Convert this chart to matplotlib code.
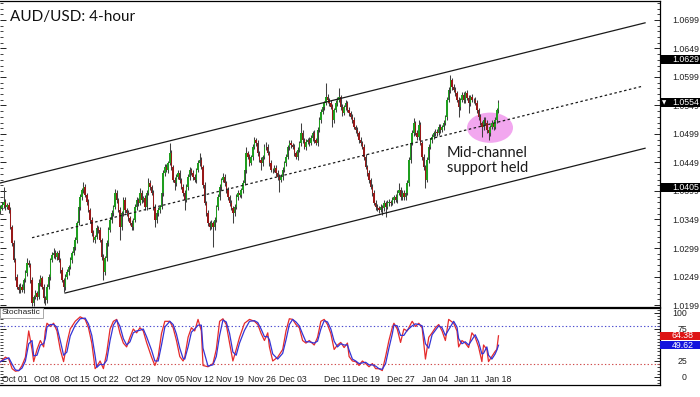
import numpy as np
import matplotlib
matplotlib.use('Agg')
import matplotlib.pyplot as plt
import matplotlib.transforms as mtransforms
from matplotlib.patches import Ellipse, Rectangle
from matplotlib.ticker import FixedLocator, MultipleLocator

plt.rcParams['font.family'] = ['Liberation Sans', 'DejaVu Sans']

# AUD/USD 4-hour closes, one value per candle (Oct 01 -> Jan 18)
first_open = 1.0364
closes = [
    1.0369, 1.0374, 1.0380, 1.0371, 1.0374, 1.0366, 1.0336, 1.0308, 1.0278, 1.0248,
    1.0231, 1.0225, 1.0231, 1.0225, 1.0243, 1.0255, 1.0273, 1.0269, 1.0243, 1.0203,
    1.0213, 1.0220, 1.0213, 1.0238, 1.0246, 1.0231, 1.0211, 1.0208, 1.0231, 1.0248,
    1.0278, 1.0287, 1.0290, 1.0283, 1.0290, 1.0278, 1.0260, 1.0243, 1.0231, 1.0248,
    1.0257, 1.0266, 1.0278, 1.0290, 1.0301, 1.0313, 1.0343, 1.0371, 1.0388, 1.0401,
    1.0406, 1.0392, 1.0380, 1.0366, 1.0348, 1.0325, 1.0313, 1.0318, 1.0334, 1.0331,
    1.0313, 1.0283, 1.0257, 1.0281, 1.0308, 1.0331, 1.0348, 1.0360, 1.0371, 1.0396,
    1.0383, 1.0366, 1.0336, 1.0360, 1.0383, 1.0366, 1.0360, 1.0352, 1.0343, 1.0336,
    1.0348, 1.0371, 1.0383, 1.0378, 1.0396, 1.0383, 1.0387, 1.0371, 1.0396, 1.0413,
    1.0406, 1.0396, 1.0371, 1.0348, 1.0360, 1.0366, 1.0371, 1.0396, 1.0431, 1.0441,
    1.0436, 1.0448, 1.0466, 1.0441, 1.0418, 1.0413, 1.0424, 1.0431, 1.0418, 1.0406,
    1.0396, 1.0383, 1.0406, 1.0424, 1.0436, 1.0431, 1.0424, 1.0418, 1.0436, 1.0448,
    1.0453, 1.0441, 1.0410, 1.0378, 1.0360, 1.0343, 1.0336, 1.0343, 1.0336, 1.0348,
    1.0371, 1.0388, 1.0406, 1.0418, 1.0424, 1.0413, 1.0401, 1.0388, 1.0378, 1.0369,
    1.0360, 1.0371, 1.0388, 1.0396, 1.0392, 1.0401, 1.0413, 1.0436, 1.0466, 1.0459,
    1.0448, 1.0459, 1.0476, 1.0488, 1.0483, 1.0466, 1.0453, 1.0448, 1.0459, 1.0476,
    1.0476, 1.0466, 1.0448, 1.0436, 1.0436, 1.0439, 1.0431, 1.0424, 1.0418, 1.0424,
    1.0436, 1.0448, 1.0459, 1.0476, 1.0483, 1.0480, 1.0476, 1.0466, 1.0459, 1.0471,
    1.0483, 1.0501, 1.0488, 1.0476, 1.0485, 1.0488, 1.0483, 1.0492, 1.0501, 1.0488,
    1.0483, 1.0506, 1.0524, 1.0538, 1.0546, 1.0553, 1.0564, 1.0559, 1.0553, 1.0546,
    1.0524, 1.0541, 1.0553, 1.0559, 1.0564, 1.0546, 1.0536, 1.0546, 1.0553, 1.0541,
    1.0536, 1.0529, 1.0524, 1.0511, 1.0506, 1.0501, 1.0488, 1.0483, 1.0476, 1.0459,
    1.0441, 1.0431, 1.0418, 1.0406, 1.0396, 1.0378, 1.0371, 1.0369, 1.0366, 1.0371,
    1.0369, 1.0378, 1.0371, 1.0378, 1.0380, 1.0378, 1.0383, 1.0388, 1.0383, 1.0396,
    1.0401, 1.0388, 1.0396, 1.0388, 1.0396, 1.0413, 1.0453, 1.0483, 1.0501, 1.0518,
    1.0501, 1.0494, 1.0515, 1.0483, 1.0459, 1.0441, 1.0418, 1.0453, 1.0476, 1.0488,
    1.0494, 1.0501, 1.0503, 1.0501, 1.0511, 1.0506, 1.0511, 1.0518, 1.0529, 1.0559,
    1.0576, 1.0594, 1.0581, 1.0576, 1.0571, 1.0559, 1.0546, 1.0559, 1.0567, 1.0559,
    1.0571, 1.0562, 1.0553, 1.0564, 1.0559, 1.0559, 1.0553, 1.0541, 1.0529, 1.0518,
    1.0511, 1.0524, 1.0518, 1.0506, 1.0501, 1.0511, 1.0518, 1.0511, 1.0524, 1.0541,
    1.0554,
]
# wick lengths in pips above / below each candle body
wick_up = [
    5, 6, 26, 5, 4, 6, 5, 4, 5, 4,   5, 4, 6, 5, 4, 5, 9, 5, 4, 5,
    4, 5, 4, 6, 5, 4, 5, 4, 5, 5,    4, 5, 9, 5, 4, 5, 4, 5, 4, 5,
    5, 4, 5, 4, 6, 5, 4, 5, 5, 4,    9, 5, 4, 5, 4, 5, 6, 4, 5, 4,
    5, 4, 5, 4, 5, 4, 5, 5, 4, 7,    5, 4, 5, 4, 6, 5, 4, 5, 4, 5,
    4, 5, 5, 4, 9, 5, 4, 5, 4, 9,    5, 4, 5, 5, 4, 5, 4, 5, 4, 6,
    5, 4, 17, 5, 4, 5, 4, 5, 5, 4,   5, 4, 5, 4, 5, 4, 5, 5, 4, 5,
    12, 5, 4, 5, 4, 5, 4, 5, 4, 5,   4, 5, 5, 4, 7, 5, 4, 5, 4, 5,
    4, 5, 5, 4, 5, 4, 5, 5, 10, 4,   5, 4, 5, 6, 4, 5, 4, 5, 4, 5,
    9, 5, 4, 5, 4, 5, 5, 4, 5, 4,    5, 4, 5, 4, 6, 5, 4, 5, 4, 5,
    4, 17, 5, 4, 5, 4, 5, 5, 4, 5,   4, 5, 4, 5, 5, 4, 25, 5, 4, 5,
    5, 4, 5, 5, 16, 4, 5, 4, 5, 4,   5, 4, 5, 5, 4, 5, 4, 5, 4, 5,
    5, 4, 5, 4, 5, 4, 5, 5, 4, 5,    4, 5, 4, 5, 5, 4, 5, 4, 5, 4,
    12, 5, 4, 5, 4, 5, 5, 4, 5, 9,   4, 5, 9, 5, 4, 5, 4, 5, 5, 4,
    5, 4, 5, 4, 5, 5, 4, 5, 4, 5,    5, 9, 4, 5, 5, 4, 5, 4, 5, 5,
    4, 5, 5, 4, 5, 4, 5, 5, 4, 5,    4, 5, 4, 5, 5, 4, 5, 4, 5, 4,
    5,
]
wick_dn = [
    5, 4, 5, 6, 4, 5, 4, 5, 4, 5,    4, 5, 5, 4, 5, 4, 5, 4, 5, 6,
    5, 4, 5, 4, 5, 4, 9, 9, 5, 4,    5, 4, 5, 4, 5, 4, 5, 4, 9, 5,
    4, 5, 4, 5, 4, 5, 5, 4, 5, 4,    5, 4, 5, 4, 5, 5, 4, 5, 4, 5,
    4, 5, 14, 5, 4, 5, 4, 5, 5, 4,   5, 4, 23, 5, 4, 5, 4, 5, 4, 6,
    5, 4, 5, 5, 4, 5, 4, 5, 5, 4,    5, 4, 5, 12, 5, 4, 5, 4, 5, 5,
    4, 5, 4, 5, 4, 12, 5, 4, 5, 4,   5, 17, 4, 5, 5, 4, 5, 4, 5, 4,
    5, 4, 5, 4, 5, 5, 6, 4, 35, 5,   4, 5, 4, 5, 4, 5, 5, 4, 5, 4,
    17, 5, 4, 5, 4, 5, 5, 4, 5, 4,   5, 4, 5, 4, 5, 5, 4, 12, 5, 4,
    5, 4, 5, 4, 5, 4, 5, 5, 21, 4,   5, 4, 5, 4, 5, 5, 4, 5, 4, 5,
    4, 5, 5, 4, 5, 4, 5, 4, 5, 5,    4, 5, 4, 5, 4, 5, 4, 5, 5, 4,
    12, 5, 4, 5, 4, 5, 5, 4, 5, 4,   5, 4, 5, 4, 5, 5, 4, 5, 4, 5,
    4, 5, 5, 4, 5, 4, 5, 5, 6, 4,    12, 5, 17, 4, 5, 5, 4, 5, 4, 5,
    4, 5, 5, 4, 5, 4, 5, 5, 4, 5,    4, 5, 5, 4, 5, 5, 14, 4, 5, 4,
    5, 4, 5, 5, 4, 5, 4, 5, 4, 5,    4, 5, 5, 4, 5, 4, 17, 5, 4, 5,
    5, 4, 17, 5, 4, 5, 4, 5, 5, 4,   17, 5, 4, 5, 12, 5, 4, 5, 4, 5,
    5,
]

date_bars = [1, 20, 38, 56, 75, 94, 112, 130, 149, 168, 195, 212, 233, 254, 273, 292]
date_labels = ['Oct 01', 'Oct 08', 'Oct 15', 'Oct 22', 'Oct 29', 'Nov 05', 'Nov 12', 'Nov 19',
               'Nov 26', 'Dec 03', 'Dec 11', 'Dec 19', 'Dec 27', 'Jan 04', 'Jan 11', 'Jan 18']

price_ticks = [1.0199, 1.0249, 1.0299, 1.0349, 1.0399, 1.0449, 1.0499, 1.0549, 1.0599, 1.0649, 1.0699]
price_boxes = [1.0629, 1.0554, 1.0405]

# channel lines (bar, price) anchors
upper_channel = [[-0.3, 388.3], [1.0413, 1.0694]]
mid_channel = [[19, 387], [1.0317, 1.0583]]
lower_channel = [[38.9, 388.3], [1.0220, 1.0474]]

# stochastic %K (red) and %D (blue), read at turning points
stoch_bars = [0, 3, 5, 7, 9, 11, 13, 15, 17, 19, 20, 22, 24, 26, 27, 28, 30, 32, 34, 36,
              38, 40, 42, 45, 48, 51, 53, 55, 57, 58, 60, 62, 64, 66, 68, 70, 72, 74, 76, 78,
              80, 82, 84, 86, 88, 91, 93, 95, 97, 99, 102, 104, 106, 108, 110, 111, 113, 115, 117, 119,
              121, 122, 125, 128, 130, 132, 134, 136, 138, 140, 142, 144, 147, 150, 153, 155, 157, 159, 161, 162,
              164, 167, 170, 172, 174, 176, 178, 180, 182, 184, 186, 189, 191, 193, 195, 197, 199, 201, 203, 205,
              207, 209, 210, 212, 214, 216, 218, 220, 222, 224, 226, 228, 230, 232, 234, 236, 237, 239, 241, 243,
              245, 248, 250, 252, 254, 256, 258, 260, 262, 264, 266, 268, 270, 273, 275, 276, 278, 280, 282, 284,
              286, 288, 290, 291, 293, 294, 296, 298, 299, 300]
stoch_k = [24, 31, 28, 13, 9, 10, 18, 31, 72, 43, 24, 43, 57, 47, 72, 84, 79, 84, 72, 43,
           24, 53, 75, 87, 94, 90, 77, 53, 13, 16, 25, 13, 38, 75, 87, 90, 68, 53, 47, 62,
           75, 69, 77, 72, 54, 31, 18, 32, 68, 87, 87, 77, 57, 32, 25, 31, 62, 77, 72, 90,
           72, 18, 16, 21, 43, 87, 91, 82, 53, 25, 43, 62, 84, 90, 87, 82, 68, 57, 69, 47,
           25, 31, 43, 72, 91, 90, 82, 77, 57, 53, 57, 50, 62, 87, 90, 82, 68, 43, 50, 54,
           46, 53, 32, 25, 24, 18, 25, 21, 16, 21, 13, 13, 10, 32, 57, 77, 84, 75, 54, 75,
           72, 87, 79, 84, 77, 28, 62, 69, 77, 82, 72, 57, 90, 84, 72, 47, 57, 53, 46, 69,
           62, 47, 24, 50, 43, 24, 32, 40, 43, 64.38]
stoch_d = [24, 28, 30, 20, 11, 10, 14, 25, 52, 57, 33, 34, 50, 52, 60, 78, 82, 82, 78, 57,
           34, 39, 64, 81, 91, 92, 83, 65, 33, 15, 20, 19, 26, 57, 81, 89, 79, 60, 50, 55,
           69, 72, 73, 75, 63, 42, 25, 25, 50, 78, 87, 82, 67, 45, 29, 28, 47, 70, 75, 81,
           81, 45, 17, 19, 32, 65, 89, 86, 68, 39, 34, 53, 73, 87, 88, 85, 75, 63, 63, 58,
           36, 28, 37, 58, 82, 90, 86, 80, 67, 55, 55, 53, 56, 75, 88, 86, 75, 56, 47, 52,
           50, 50, 42, 28, 25, 21, 22, 23, 19, 19, 17, 13, 12, 21, 45, 67, 81, 80, 65, 65,
           73, 80, 83, 82, 80, 52, 45, 66, 73, 80, 77, 65, 74, 87, 78, 60, 52, 55, 50, 58,
           66, 55, 36, 37, 47, 34, 28, 36, 42, 49.62]
stoch_levels = [80, 20]
stoch_ticks = [0, 25, 75, 100]

# figure layout (pixels -> figure fractions)
W, H = 700, 397
fig = plt.figure(figsize=(W / 100, H / 100), dpi=100)
fig.patch.set_facecolor('white')
ax = fig.add_axes([0, 90 / H, 660 / W, 306 / H])
sx = fig.add_axes([0, 12 / H, 660 / W, 77 / H])

x_lim = (-0.3, 397.3)

# candles
bars = np.arange(len(closes))
c = np.array(closes)
o = np.concatenate([[first_open], c[:-1]])
hi = np.maximum(o, c) + np.array(wick_up) * 0.0001
lo = np.minimum(o, c) - np.array(wick_dn) * 0.0001
body_col = np.where(c >= o, '#1f9e1f', '#981818')

ax.add_patch(Ellipse((294.9, 1.0510), 27.7, 0.0053, facecolor='#f2a7ef', edgecolor='none', zorder=1))
ax.vlines(bars, lo, hi, color='#404040', lw=0.75, zorder=2)
ax.bar(bars, c - o, bottom=o, width=0.85, color=body_col, linewidth=0, zorder=3)

for line, ls in [(upper_channel, '-'), (mid_channel, (0, (2, 2))), (lower_channel, '-')]:
    ax.plot(line[0], line[1], color='#1a1a1a', lw=0.9, ls=ls, zorder=4)

ax.set_xlim(*x_lim)
ax.set_ylim(1.01955, 1.07323)
ax.set_xticks([])
ax.yaxis.set_major_locator(FixedLocator(price_ticks))
ax.yaxis.set_minor_locator(FixedLocator(np.arange(1.0199, 1.0735, 0.001)))
ax.yaxis.set_major_formatter(plt.FuncFormatter(lambda v, p: f'{v:.4f}'))
ax.tick_params(axis='y', which='both', left=True, right=True, labelleft=False, labelright=True,
               direction='in', labelsize=6.3, pad=8.6, colors='#222222')
ax.tick_params(axis='y', which='major', length=4, width=0.7)
ax.tick_params(axis='y', which='minor', length=2.5, width=0.6)
ax.spines['left'].set_visible(False)
for s in ['top', 'right', 'bottom']:
    ax.spines[s].set_linewidth(0.9)

ax.text(10 / 660, 1 - 19.7 / 306, 'AUD/USD: 4-hour', transform=ax.transAxes,
        family='Lato', fontsize=11, va='baseline', ha='left', color='#111111')
ax.text(269, 1.04587, 'Mid-channel', family='Lato', fontsize=10.5, va='baseline', ha='left', color='#1a1a1a')
ax.text(269, 1.04324, 'support held', family='Lato', fontsize=10.5, va='baseline', ha='left', color='#1a1a1a')

# price labels on the right
bt = mtransforms.blended_transform_factory(ax.transAxes, ax.transData)
box_h = 9 * (1.07323 - 1.01955) / 306
for p in price_boxes:
    ax.add_patch(Rectangle((1.0, p - box_h / 2), 40 / 660, box_h, transform=bt, facecolor='black',
                           edgecolor='none', clip_on=False, zorder=6))
    ax.text(1 + 12 / 660, p, f'{p:.4f}', transform=bt, color='white', fontsize=6.3,
            va='center', ha='left', clip_on=False, zorder=7)
ax.text(1 + 2 / 660, price_boxes[1], '\u25bc', transform=bt, color='white', fontsize=4,
        family='DejaVu Sans', va='center', ha='left', clip_on=False, zorder=7)

# stochastic panel
sx.plot(stoch_bars, stoch_k, color='#e52b2b', lw=0.9, zorder=3)
sx.plot(stoch_bars, stoch_d, color='#3434d6', lw=0.9, zorder=4)
sx.axhline(stoch_levels[0], color='#4b4bd0', lw=0.8, ls=(0, (1.2, 2)), zorder=2)
sx.axhline(stoch_levels[1], color='#d04b4b', lw=0.8, ls=(0, (1.2, 2)), zorder=2)
sx.set_xlim(*x_lim)
sx.set_ylim(-12.5, 107.8)
sx.set_xticks(date_bars, date_labels)
for t in sx.get_xticklabels():
    t.set_ha('left')
sx.tick_params(axis='x', length=0, pad=-7.5, labelsize=6.3, colors='#222222')
sx.yaxis.set_major_locator(FixedLocator(stoch_ticks))
sx.yaxis.set_minor_locator(MultipleLocator(5))
sx.tick_params(axis='y', which='both', left=True, right=True, labelleft=False, labelright=True,
               direction='in', labelsize=6.3, pad=19.4, colors='#222222')
sx.tick_params(axis='y', which='major', length=4, width=0.7)
sx.tick_params(axis='y', which='minor', length=2.5, width=0.6)
for t in sx.get_yticklabels():
    t.set_ha('right')
sx.spines['left'].set_visible(False)
for s in ['top', 'right', 'bottom']:
    sx.spines[s].set_linewidth(0.9)

sbt = mtransforms.blended_transform_factory(sx.transAxes, sx.transData)
sbox_h = 8.5 / 0.64
for v, col in [(stoch_k[-1], '#dd1414'), (stoch_d[-1], '#1414dd')]:
    sx.add_patch(Rectangle((1.0, v - sbox_h / 2), 40 / 660, sbox_h, transform=sbt, facecolor=col,
                           edgecolor='none', clip_on=False, zorder=6))
    sx.text(1 + 12 / 660, v, f'{v:.2f}', transform=sbt, color='white', fontsize=6.3,
            va='center', ha='left', clip_on=False, zorder=7)

sx.text(2 / 660, 1 - 1.5 / 77, 'Stochastic', transform=sx.transAxes, fontsize=6, va='top', ha='left',
        color='#222222', zorder=8,
        bbox=dict(boxstyle='square,pad=0.2', facecolor='white', edgecolor='#9a9a9a', linewidth=0.6))

fig.savefig('out.png', dpi=100)
